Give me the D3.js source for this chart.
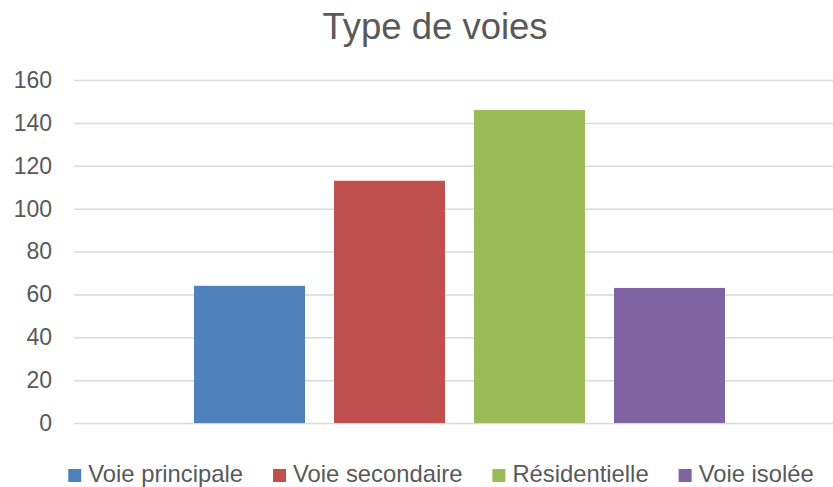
<!DOCTYPE html>
<html>
<head>
<meta charset="utf-8">
<script src="https://cdn.jsdelivr.net/npm/d3@7"></script>
<style>
  body { margin: 0; background: #fff; }
  text { font-family: "Liberation Sans", Arial, sans-serif; fill: #595959; }
</style>
</head>
<body>
<div id="graph"></div>
<script>
var seriesNames = ["Voie principale", "Voie secondaire", "Résidentielle", "Voie isolée"];
var seriesValues = [64, 113, 146, 63];
var yTicks = [0, 20, 40, 60, 80, 100, 120, 140, 160];
var chartTitle = "Type de voies";

var width = 833;
var height = 487;
var margin = { top: 80, bottom: 64, left: 74, right: 0 };

var barColors = {
  "Voie principale": "#4f81bd",
  "Voie secondaire": "#c0504d",
  "Résidentielle": "#9bbb59",
  "Voie isolée": "#8064a2"
};

function start() {
  var svg = d3.select("#graph")
    .append("svg")
    .attr("width", width)
    .attr("height", height);

  // one category, four series -> excel style cluster, right side runs off the svg
  var xScale = d3.scaleBand()
    .domain(seriesNames)
    .range([margin.left, 845])
    .paddingInner(0.207)
    .paddingOuter(0.857);

  var yScale = d3.scaleLinear()
    .domain([0, 160])
    .range([height - margin.bottom, margin.top]);

  // grid lines
  svg.append("g")
    .attr("transform", "translate(" + margin.left + ",0)")
    .call(d3.axisLeft(yScale).tickValues(yTicks).tickSize(-(width - margin.left)).tickFormat(""))
    .call(function (g) { g.select(".domain").remove(); })
    .selectAll(".tick line")
    .attr("stroke", "#d9d9d9")
    .attr("stroke-width", 1.5);

  // y labels
  var yAxis = svg.append("g")
    .attr("transform", "translate(52,0)")
    .call(d3.axisLeft(yScale).tickValues(yTicks).tickSize(0).tickPadding(0));
  yAxis.select(".domain").remove();
  yAxis.selectAll(".tick text")
    .attr("font-size", "23px")
    .attr("font-family", null)
    .attr("fill", "#595959");

  svg.selectAll("rect.bar")
    .data(seriesNames)
    .enter()
    .append("rect")
    .attr("class", "bar")
    .attr("x", function (d) { return xScale(d); })
    .attr("width", xScale.bandwidth())
    .attr("y", function (d, i) { return yScale(seriesValues[i]); })
    .attr("height", function (d, i) { return yScale(0) - yScale(seriesValues[i]); })
    .attr("fill", function (d) { return barColors[d]; });

  svg.append("text")
    .attr("x", 435)
    .attr("y", 39)
    .attr("text-anchor", "middle")
    .style("font-size", "36.5px")
    .text(chartTitle);

  createLegend(svg);
}

function createLegend(svg) {
  var legend = svg.append("g");
  var boxSize = 13, boxGap = 7, itemGap = 30;
  var xPos = 0;

  seriesNames.forEach(function (name) {
    legend.append("rect")
      .attr("x", xPos)
      .attr("y", 469)
      .attr("width", boxSize)
      .attr("height", boxSize)
      .attr("fill", barColors[name]);
    var t = legend.append("text")
      .attr("x", xPos + boxSize + boxGap)
      .attr("y", 482)
      .style("font-size", "23.8px")
      .text(name);
    xPos += boxSize + boxGap + t.node().getComputedTextLength() + itemGap;
  });

  var total = xPos - itemGap;
  legend.attr("transform", "translate(" + (441 - total / 2) + ",0)");
}

start();
</script>
</body>
</html>
